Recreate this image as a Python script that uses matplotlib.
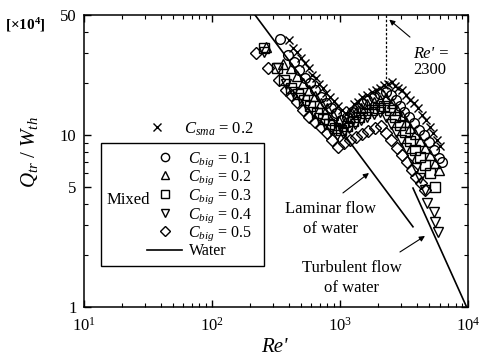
import matplotlib
matplotlib.use('Agg')
import matplotlib.pyplot as plt
from matplotlib.patches import Rectangle
from matplotlib.lines import Line2D
from matplotlib.ticker import FixedLocator, FixedFormatter, LogLocator, LogFormatterMathtext, NullFormatter

plt.rcParams['font.family'] = ['Liberation Serif', 'DejaVu Serif']
plt.rcParams['mathtext.fontset'] = 'custom'
plt.rcParams['mathtext.rm'] = 'Liberation Serif'
plt.rcParams['mathtext.it'] = 'Liberation Serif:italic'
plt.rcParams['mathtext.bf'] = 'Liberation Serif:bold'

# Q_tr / W_th (x10^4) against Re' for each suspension
re_sma = [400, 431, 463, 497, 535, 575, 607, 653, 689, 741, 782, 841, 904, 972, 1045, 1123,
          1208, 1298, 1396, 1500, 1642, 1766, 1898, 2040, 2193, 2358, 2535, 2676, 2826,
          3038, 3266, 3512, 3776, 4058, 4363, 4690, 5042, 5323, 5722, 6041]
q_sma = [35.8, 32.1, 30.4, 28.1, 26.3, 24.6, 22.4, 21.5, 19.8, 18.8, 17.6, 16.7, 15.8, 14.8, 14.0, 13.3,
         14.0, 15.2, 15.6, 16.7, 17.1, 17.8, 18.3, 18.8, 19.6, 19.8, 20.4, 19.3, 18.8,
         18.3, 17.1, 16.0, 15.4, 14.4, 13.1, 12.2, 11.1, 10.3, 9.37, 8.64]

re_big01 = [340, 393, 438, 480, 535, 585, 641, 714, 782, 856, 937, 1026,
            1144, 1252, 1371, 1500, 1642, 1831, 2040, 2274, 2489,
            2725, 2930, 3150, 3449, 3776, 4132, 4523, 4951, 5420, 5933, 6264]
q_big01 = [36.2, 29.2, 26.6, 23.9, 21.5, 20.1, 18.3, 16.7, 15.4, 14.4, 13.4, 12.2,
           12.7, 13.6, 14.4, 15.4, 16.0, 16.7, 17.3, 17.8, 17.1,
           16.0, 14.8, 13.6, 12.7, 11.8, 10.7, 10.0, 9.12, 8.19, 7.36, 6.97]

re_big02 = [264, 359, 415, 463, 516, 575, 641, 714, 796, 888, 989,
            1103, 1208, 1346, 1474, 1642, 1831, 2040, 2274,
            2535, 2775, 3038, 3266, 3512, 3845, 4208, 4606, 5042, 5519, 5933]
q_big02 = [32.6, 25.9, 24.6, 22.1, 20.1, 18.3, 16.9, 15.4, 14.4, 13.1, 12.1,
           11.9, 12.7, 13.6, 14.4, 15.2, 15.6, 16.0, 16.4,
           15.4, 14.0, 12.9, 11.9, 11.0, 10.1, 9.24, 8.41, 7.66, 6.88, 6.27]

re_big03 = [255, 322, 366, 415, 471, 525, 585, 664, 741, 826, 920,
            1026, 1144, 1275, 1421, 1584, 1766, 1968, 2193,
            2445, 2676, 2930, 3208, 3512, 3845, 4208, 4606, 5042, 5519]
q_big03 = [32.1, 24.6, 20.9, 18.8, 17.3, 16.0, 14.8, 13.4, 12.4, 11.6, 11.0,
           10.7, 11.3, 12.1, 12.7, 13.4, 14.0, 14.4, 14.8,
           14.0, 12.7, 11.4, 10.4, 9.24, 8.19, 7.46, 6.70, 6.02, 4.99]

re_big04 = [255, 328, 379, 431, 489, 545, 618, 689, 768, 856, 954,
            1064, 1186, 1322, 1474, 1642, 1831, 2040,
            2274, 2489, 2725, 2984, 3266, 3576, 3915, 4208, 4606, 4776, 5420, 5519, 5827]
q_big04 = [30.4, 24.6, 19.8, 17.8, 16.4, 15.0, 13.6, 12.6, 11.6, 10.7, 10.0,
           10.3, 11.0, 11.6, 12.2, 12.7, 13.3, 13.6,
           12.7, 11.6, 10.4, 9.37, 8.41, 7.36, 6.44, 5.63, 4.79, 4.03, 3.57, 3.12, 2.73]

re_big05 = [220, 274, 334, 379, 415, 463, 516, 575, 641, 714, 796, 872, 972,
            1083, 1208, 1346, 1500, 1672, 1864, 2078,
            2274, 2489, 2775, 3038, 3326, 3642, 3915, 4285, 4606]
q_big05 = [30.0, 24.6, 20.9, 18.3, 17.1, 15.6, 14.0, 12.7, 11.9, 11.1, 10.3, 9.37, 8.53,
           8.99, 9.37, 9.75, 10.1, 10.6, 11.0, 11.3,
           10.3, 9.37, 8.41, 7.66, 6.97, 6.27, 5.70, 5.26, 4.79]

# water: laminar and turbulent correlations
lam_re = [218, 3720]
lam_q = [50, 2.93]
turb_re = [3720, 9750]
turb_q = [4.92, 1.0]

re_crit = 2300
crit_q = [20, 50]

fig = plt.figure(figsize=(4.89, 3.59), dpi=100)
ax = fig.add_axes([0.1708, 0.1448, 0.7863, 0.8134])
ax.set_xscale('log')
ax.set_yscale('log')
ax.set_xlim(10, 1e4)
ax.set_ylim(1, 50)

mk = dict(linestyle='none', mfc='none', mec='k', mew=1.0, color='k')
ax.plot(re_sma, q_sma, marker='x', ms=6, **mk)
ax.plot(re_big01, q_big01, marker='o', ms=7, **mk)
ax.plot(re_big02, q_big02, marker='^', ms=7, **mk)
ax.plot(re_big03, q_big03, marker='s', ms=6.5, **mk)
ax.plot(re_big04, q_big04, marker='v', ms=7, **mk)
ax.plot(re_big05, q_big05, marker='D', ms=6.5, **mk)

ax.plot(lam_re, lam_q, color='k', lw=1.2)
ax.plot(turb_re, turb_q, color='k', lw=1.2)
ax.plot([re_crit, re_crit], crit_q, color='k', lw=0.9, ls=(0, (2, 1.5)))

# axes, ticks
for s in ax.spines.values():
    s.set_linewidth(1.1)
ax.tick_params(which='both', direction='in', top=True, right=True, labelsize=12)
ax.tick_params(axis='x', pad=7)
ax.tick_params(axis='y', pad=5)
ax.tick_params(which='major', length=5, width=1.0)
ax.tick_params(which='minor', length=3, width=0.8)
ax.xaxis.set_major_locator(LogLocator(base=10))
ax.xaxis.set_major_formatter(LogFormatterMathtext())
ax.xaxis.set_minor_locator(LogLocator(base=10, subs=range(2, 10)))
ax.xaxis.set_minor_formatter(NullFormatter())
ax.yaxis.set_major_locator(FixedLocator([1, 5, 10, 50]))
ax.yaxis.set_major_formatter(FixedFormatter(['1', '5', '10', '50']))
ax.yaxis.set_minor_locator(FixedLocator([2, 3, 4, 6, 7, 8, 9, 20, 30, 40]))
ax.yaxis.set_minor_formatter(NullFormatter())

ax.set_xlabel("Re'", fontsize=15, style='italic')
ax.xaxis.set_label_coords(0.497, -0.105)
ax.set_ylabel('$Q_{tr}$ / $W_{th}$', fontsize=15)
ax.yaxis.set_label_coords(-0.113, 0.53)
fig.text(5 / 489, 1 - 25 / 359, '[×10$^{\\mathbf{4}}$]', fontsize=11, fontweight='bold', va='center')

# legend: single-particle case above, mixed cases inside the box
h_sma = [Line2D([], [], marker='x', ms=6, **mk)]
leg_top = ax.legend(h_sma, ['$C_{sma}$ = 0.2'], loc='upper left', bbox_to_anchor=(0.140, 0.640),
                    frameon=False, borderpad=0, borderaxespad=0, handlelength=2.3,
                    handletextpad=0.5, fontsize=12, markerscale=0.85)
ax.add_artist(leg_top)

h_mix = [Line2D([], [], marker=m, ms=s, **mk) for m, s in
         [('o', 7), ('^', 7), ('s', 6.5), ('v', 7), ('D', 6.5)]]
h_mix.append(Line2D([], [], color='k', lw=1.2))
lab_mix = ['$C_{big}$ = 0.1', '$C_{big}$ = 0.2', '$C_{big}$ = 0.3',
           '$C_{big}$ = 0.4', '$C_{big}$ = 0.5', 'Water']
ax.legend(h_mix, lab_mix, loc='upper left', bbox_to_anchor=(0.165, 0.537),
          frameon=False, borderpad=0, borderaxespad=0, handlelength=2.2,
          handletextpad=0.4, labelspacing=0.0, fontsize=11.5, markerscale=0.85)
ax.add_patch(Rectangle((0.0455, 0.1404), 0.4235, 0.4212, transform=ax.transAxes,
                       fill=False, ec='k', lw=1.0))
ax.text(0.061, 0.366, 'Mixed', transform=ax.transAxes, ha='left', va='center', fontsize=12)

# annotations
arw = dict(arrowstyle='-|>', color='k', lw=0.8, mutation_scale=8, shrinkA=0, shrinkB=0)
ax.text(3720, 26.6, "Re' =", ha='left', va='bottom', fontsize=12, style='italic')
ax.text(3720, 26.6, '2300', ha='left', va='top', fontsize=12)
ax.annotate('', xy=(2430, 47), xytext=(3524, 37.2), arrowprops=arw)
ax.text(838, 3.25, 'Laminar flow\nof water', ha='center', va='center', fontsize=12, linespacing=1.3)
ax.annotate('', xy=(1687, 6.02), xytext=(1057, 4.61), arrowprops=arw)
ax.text(1241, 1.48, 'Turbulent flow\nof water', ha='center', va='center', fontsize=12, linespacing=1.3)
ax.annotate('', xy=(4614, 2.59), xytext=(2943, 2.09), arrowprops=arw)

fig.savefig('out.png', dpi=100)
